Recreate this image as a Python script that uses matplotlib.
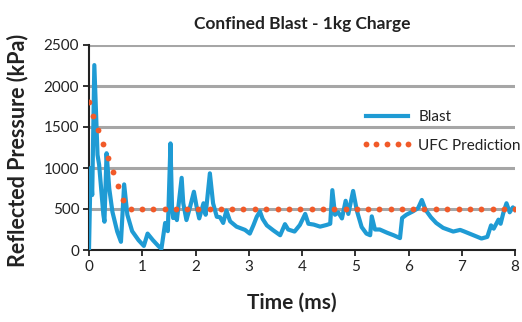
import matplotlib
matplotlib.use("Agg")
import matplotlib.pyplot as plt

# ---- data ----
blast_t = [0.00, 0.03, 0.06, 0.10, 0.16, 0.19, 0.27, 0.29, 0.33, 0.38, 0.44, 0.53, 0.60,
           0.66, 0.72, 0.81, 0.93, 1.03, 1.10, 1.20, 1.30, 1.36, 1.43, 1.48, 1.53, 1.56,
           1.58, 1.61, 1.65, 1.74, 1.77, 1.83, 1.90, 1.97, 2.02, 2.07, 2.15, 2.19, 2.27,
           2.33, 2.40, 2.46, 2.52, 2.58, 2.65, 2.77, 2.93, 3.02, 3.09, 3.15, 3.21, 3.26,
           3.34, 3.46, 3.59, 3.68, 3.74, 3.86, 3.96, 4.06, 4.12, 4.22, 4.34, 4.46, 4.53,
           4.57, 4.62, 4.68, 4.75, 4.82, 4.87, 4.96, 5.03, 5.12, 5.21, 5.28, 5.31, 5.37,
           5.46, 5.60, 5.72, 5.84, 5.88, 5.96, 6.08, 6.18, 6.25, 6.32, 6.42, 6.52, 6.65,
           6.84, 6.97, 7.05, 7.22, 7.37, 7.48, 7.55, 7.60, 7.69, 7.73, 7.78, 7.84, 7.90,
           7.96, 8.00]
blast_p = [0, 1000, 670, 2255, 1160, 1040, 430, 345, 1180, 750, 465, 225, 100,
           800, 430, 230, 120, 50, 200, 120, 50, 15, 330, 230, 1300, 500,
           390, 470, 365, 880, 570, 365, 530, 710, 530, 385, 570, 430, 935,
           570, 405, 400, 330, 480, 350, 285, 245, 200, 305, 405, 470, 380,
           300, 240, 180, 315, 250, 225, 305, 440, 320, 310, 285, 305, 320,
           730, 430, 460, 385, 600, 440, 720, 480, 280, 200, 180, 410, 250,
           250, 210, 180, 145, 390, 430, 470, 510, 610, 490, 400, 330, 270,
           225, 245, 225, 180, 140, 160, 300, 260, 370, 320, 450, 570, 460,
           520, 490]

ufc_t = [0.00, 0.08, 0.17, 0.26, 0.36, 0.45, 0.54, 0.63,
         0.78, 0.99, 1.20, 1.42, 1.63, 1.84, 2.05, 2.27, 2.48, 2.69, 2.90, 3.12,
         3.33, 3.54, 3.75, 3.97, 4.18, 4.39, 4.60, 4.82, 5.03, 5.24, 5.45, 5.67,
         5.88, 6.09, 6.30, 6.51, 6.73, 6.94, 7.15, 7.36, 7.58, 7.79, 8.00]
ufc_p = [1800, 1634, 1463, 1293, 1126, 955, 784, 613,
         505, 505, 505, 505, 505, 505, 505, 505, 505, 505, 505, 505,
         505, 505, 505, 505, 505, 505, 505, 505, 505, 505, 505, 505,
         505, 505, 505, 505, 505, 505, 505, 505, 505, 505, 505]

x_ticks = [0, 1, 2, 3, 4, 5, 6, 7, 8]
y_ticks = [0, 500, 1000, 1500, 2000, 2500]

title = "Confined Blast - 1kg Charge"
xlabel = "Time (ms)"
ylabel = "Reflected Pressure (kPa)"

# ---- figure ----
plt.rcParams['font.family'] = ['Lato', 'DejaVu Sans']
W, H = 522, 322
fig = plt.figure(figsize=(W / 100, H / 100), dpi=100)
ax = fig.add_axes([89 / W, 1 - 250 / H, (515 - 89) / W, (250 - 45) / H])

blue = '#1f9bd4'
orange = '#f15a29'
grid = '#a6a6a6'

for y in y_ticks[1:]:
    ax.axhline(y, color=grid, lw=2.2, zorder=1)

ax.plot(blast_t, blast_p, color=blue, lw=3.0, solid_joinstyle='round', zorder=3, label='Blast')
ax.plot(ufc_t, ufc_p, linestyle='none', marker='o', ms=4.2, mfc=orange, mec=orange, mew=0,
        zorder=4, label='UFC Prediction')

ax.set_xlim(0, 8)
ax.set_ylim(0, 2500)
ax.set_xticks(x_ticks)
ax.set_yticks(y_ticks)
ax.tick_params(axis='both', direction='out', length=4, width=1.3, color='#222222',
               labelsize=11, labelcolor='#222222', pad=3)
for s in ['top', 'right']:
    ax.spines[s].set_visible(False)
for s in ['left', 'bottom']:
    ax.spines[s].set_color('#222222')
    ax.spines[s].set_linewidth(1.5)

fig.text(302 / W, 1 - 24 / H, title, ha='center', va='center', fontsize=12.5,
         fontweight='bold', color='#222222')
fig.text(292 / W, 1 - 303 / H, xlabel, ha='center', va='center', fontsize=15,
         fontweight='bold', color='#222222')
fig.text(18 / W, 1 - 150 / H, ylabel, ha='center', va='center', rotation=90,
         fontsize=15.5, fontweight='bold', color='#222222')

leg = ax.legend(loc='upper left', bbox_to_anchor=(361 / W, 1 - 110 / H),
                bbox_transform=fig.transFigure, frameon=False, fontsize=11,
                handlelength=3.4, handletextpad=0.35, labelspacing=0.95,
                numpoints=5, borderpad=0, borderaxespad=0)
for t in leg.get_texts():
    t.set_color('#222222')

fig.savefig('out.png', dpi=100)
